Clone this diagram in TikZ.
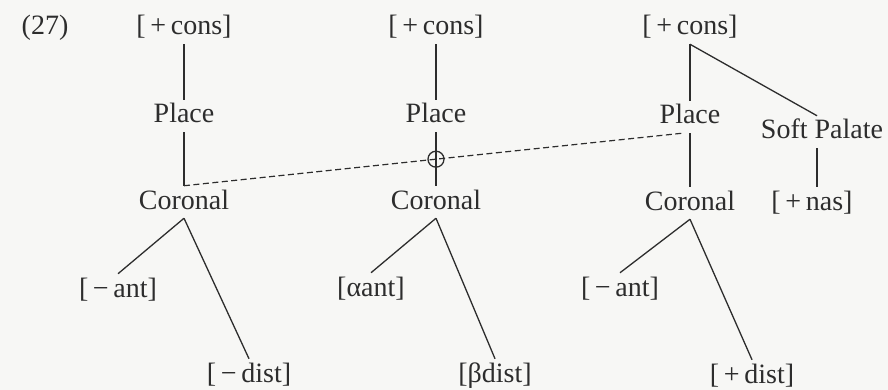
\documentclass[tikz,border=0pt]{standalone}
\usepackage{fontspec}
\setmainfont{Liberation Serif}
\usetikzlibrary{calc}
\definecolor{ink}{RGB}{45,45,45}
\definecolor{paper}{RGB}{247,247,245}

\begin{document}
\begin{tikzpicture}[x=1pt, y=-1pt, color=ink, line width=1.3pt,
                    main node/.style={inner sep=3pt, text height=19.6pt, text depth=5.6pt,
                                      font=\fontsize{28}{32}\selectfont}]

  \fill[paper] (0,0) rectangle (888,390);
  \useasboundingbox (0,0) rectangle (888,390);

  \node[main node] (num) at (45,28) {(27)};

  % first tree
  \node[main node] (cons1) at (184,28) {[\,+\,cons]};
  \node[main node] (place1) at (184,116) {Place};
  \node[main node] (cor1) at (184,202) {Coronal};
  \node[main node] (ant1) at (118,290) {[\,−\,ant]};
  \node[main node] (dist1) at (249,375) {[\,−\,dist]};

  % second tree
  \node[main node] (cons2) at (436,28) {[\,+\,cons]};
  \node[main node] (place2) at (436,116) {Place};
  \node[main node] (cor2) at (436,202) {Coronal};
  \node[main node] (ant2) at (371,289) {[αant]};
  \node[main node] (dist2) at (495,375) {[βdist]};

  % third tree
  \node[main node] (cons3) at (690,28) {[\,+\,cons]};
  \node[main node] (place3) at (690,117) {Place};
  \node[main node] (soft) at (822,132) {Soft Palate};
  \node[main node] (cor3) at (690,203) {Coronal};
  \node[main node] (nas) at (812,203) {[\,+\,nas]};
  \node[main node] (ant3) at (620,289) {[\,−\,ant]};
  \node[main node] (dist3) at (752,376) {[\,+\,dist]};

\path
    (cons1) edge (place1)
    (place1) edge (cor1)
    (cor1.south) edge (ant1.north)
    (cor1.south) edge (dist1.north)

    (cons2) edge (place2)
    (place2) edge (cor2)
    (cor2.south) edge (ant2.north)
    (cor2.south) edge (dist2.north)

    (cons3) edge (place3)
    (place3) edge (cor3)
    (cor3.south) edge (ant3.north)
    (cor3.south) edge (dist3.north)
    (cons3.south) edge ([xshift=-5pt]soft.north)
    ([xshift=-5pt]soft.south) edge ([xshift=5pt]nas.north);

  % delinking line
  \coordinate (d2) at ([xshift=-8pt]place3.south);
  \draw[line width=1.2pt, dash pattern=on 6pt off 3.5pt] (cor1.north) -- (d2);
  \node[circle, draw, minimum size=16pt, inner sep=0pt, line width=1.3pt] (cut)
    at ($(cor1.north)!0.506!(d2)$) {};

\end{tikzpicture}
\end{document}
